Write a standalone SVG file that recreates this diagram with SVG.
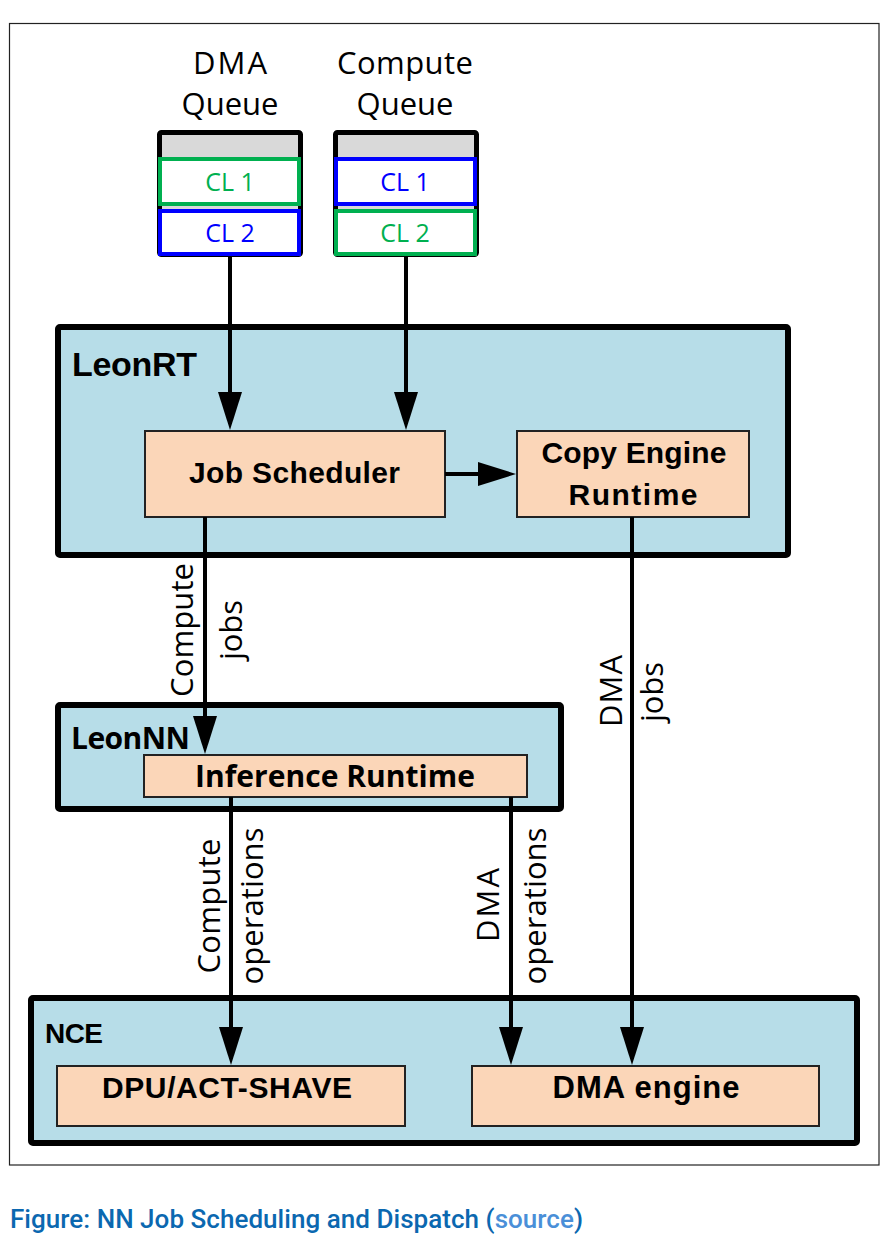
<svg xmlns="http://www.w3.org/2000/svg" width="896" height="1252" viewBox="0 0 896 1252">
<style>
.frame{fill:none;stroke:#222;stroke-width:1.2}
.group{fill:#b7dde8;stroke:#000;stroke-width:6}
.box{fill:#fbd6b8;stroke:#222;stroke-width:2}
.queue{fill:#d9d9d9;stroke:#000;stroke-width:5}
.clg{fill:#fff;stroke:#00b050;stroke-width:4}
.clb{fill:#fff;stroke:#0000ff;stroke-width:4}
.lbl{font-family:"Open Sans","DejaVu Sans",sans-serif;font-size:31px;fill:#000}
.rot{font-family:"Open Sans","DejaVu Sans",sans-serif;font-size:31px;fill:#000;text-anchor:middle}
.cl{font-family:"Open Sans","DejaVu Sans",sans-serif;font-size:25px;text-anchor:middle}
.b{font-family:"Liberation Sans",Arial,sans-serif;font-weight:bold;font-size:30px;fill:#000}
.bo{font-family:"Open Sans","DejaVu Sans",sans-serif;font-weight:bold;font-size:30px;fill:#000}
.mid{text-anchor:middle}
.conn{stroke:#000;stroke-width:4;fill:none;marker-end:url(#ah)}
.cap{font-family:Roboto,"Liberation Sans",sans-serif;font-size:26px;font-weight:500}
</style>
<defs>
<marker id="ah" markerUnits="userSpaceOnUse" markerWidth="38" markerHeight="24" refX="32" refY="12" orient="auto">
<path d="M0,0 L38,12 L0,24 Z" fill="#000"/>
</marker>
</defs>
<rect class="frame" x="9.5" y="23.5" width="869.5" height="1141.5"/>

<g id="dma-queue">
<text class="lbl mid" x="230" y="74" textLength="74">DMA</text>
<text class="lbl mid" x="230" y="115" textLength="97">Queue</text>
<rect class="queue" x="159.5" y="132.5" width="141" height="122" rx="2"/>
<rect class="clg" x="160" y="159" width="139" height="45"/>
<text class="cl" x="230" y="191" fill="#00b050">CL 1</text>
<rect class="clb" x="160" y="211" width="139" height="43"/>
<text class="cl" x="230" y="242" fill="#0000ff">CL 2</text>
</g>

<g id="compute-queue">
<text class="lbl mid" x="405" y="74" textLength="136">Compute</text>
<text class="lbl mid" x="405" y="115" textLength="97">Queue</text>
<rect class="queue" x="335.5" y="132.5" width="141" height="122" rx="2"/>
<rect class="clb" x="336" y="159" width="139" height="45"/>
<text class="cl" x="405" y="191" fill="#0000ff">CL 1</text>
<rect class="clg" x="336" y="211" width="139" height="43"/>
<text class="cl" x="405" y="242" fill="#00b050">CL 2</text>
</g>

<g id="leonrt">
<rect class="group" x="58" y="327" width="730" height="228" rx="2"/>
<text class="b" x="72" y="376" style="font-size:34px" textLength="125">LeonRT</text>
</g>
<g id="job-scheduler">
<rect class="box" x="145" y="431" width="300" height="86"/>
<text class="b mid" x="294.5" y="483" textLength="211">Job Scheduler</text>
</g>
<g id="copy-engine-runtime">
<rect class="box" x="517" y="431" width="232" height="86"/>
<text class="b mid" x="634" y="463" textLength="185">Copy Engine</text>
<text class="b mid" x="633" y="505" textLength="129">Runtime</text>
</g>

<g id="leonnn">
<rect class="group" x="58" y="705" width="503" height="104" rx="2"/>
<text class="bo" x="71" y="749" textLength="119">LeonNN</text>
</g>
<g id="inference-runtime">
<rect class="box" x="144" y="755" width="383" height="42"/>
<text class="bo mid" x="335" y="787" textLength="280">Inference Runtime</text>
</g>

<g id="nce">
<rect class="group" x="31" y="998" width="826" height="145" rx="2"/>
<text class="b" x="45" y="1043" style="font-size:28px" textLength="58">NCE</text>
</g>
<g id="dpu-act-shave">
<rect class="box" x="57" y="1066" width="348" height="60"/>
<text class="b mid" x="227" y="1098" textLength="250">DPU/ACT-SHAVE</text>
</g>
<g id="dma-engine">
<rect class="box" x="472" y="1066" width="347" height="60"/>
<text class="b mid" x="646" y="1098" style="font-size:31px" textLength="187">DMA engine</text>
</g>

<g id="connectors">
<line class="conn" x1="230" y1="256" x2="230" y2="424"/>
<line class="conn" x1="406" y1="256" x2="406" y2="424"/>
<line class="conn" x1="445" y1="474" x2="510" y2="474"/>
<line class="conn" x1="205" y1="517" x2="205" y2="748"/>
<line class="conn" x1="231" y1="797" x2="231" y2="1059"/>
<line class="conn" x1="511" y1="797" x2="511" y2="1059"/>
<line class="conn" x1="632" y1="517" x2="632" y2="1059"/>
<text class="rot" transform="translate(193,630) rotate(-90)" textLength="134">Compute</text>
<text class="rot" transform="translate(242,630) rotate(-90)" textLength="60">jobs</text>
<text class="rot" transform="translate(622,691) rotate(-90)" textLength="72">DMA</text>
<text class="rot" transform="translate(663,692) rotate(-90)" textLength="60">jobs</text>
<text class="rot" transform="translate(220,906) rotate(-90)" textLength="135">Compute</text>
<text class="rot" transform="translate(263,906) rotate(-90)" textLength="157">operations</text>
<text class="rot" transform="translate(499,905) rotate(-90)" textLength="74">DMA</text>
<text class="rot" transform="translate(546,906) rotate(-90)" textLength="157">operations</text>
</g>

<text class="cap" x="10" y="1228" textLength="573"><tspan fill="#0b68b0">Figure: NN Job Scheduling and Dispatch (</tspan><tspan fill="#4a8fd8">source</tspan><tspan fill="#0b68b0">)</tspan></text>
</svg>
